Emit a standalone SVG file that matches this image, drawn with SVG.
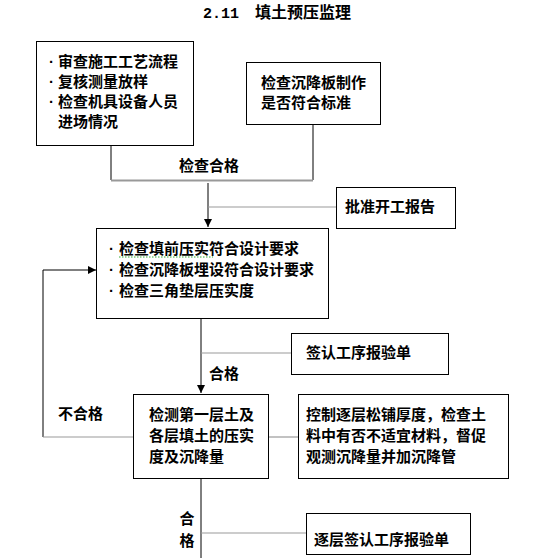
<svg xmlns="http://www.w3.org/2000/svg" width="558" height="558" viewBox="0 0 558 558">
<style>
.box{fill:#fff;stroke:#000;stroke-width:1}
.t{font-family:"Noto Sans CJK SC","Liberation Sans",sans-serif;font-size:15px;font-weight:bold;fill:#000}
.b{font-family:"Liberation Sans",sans-serif;font-size:15px;font-weight:bold;fill:#000}
.ln{stroke:#000;stroke-width:1;fill:none}
.gl{stroke:#999;stroke-width:1.2;fill:none}
</style>
<defs>
<marker id="ah" viewBox="0 0 10 10" refX="10" refY="5" markerWidth="8" markerHeight="8" markerUnits="userSpaceOnUse" orient="auto">
<path d="M0,0 L10,5 L0,10 z" fill="#000"/>
</marker>
</defs>
<rect width="558" height="558" fill="#fff"/>
<g id="title">
<text x="203" y="18" font-family="Liberation Mono,monospace" font-weight="bold" font-size="15">2.11</text>
<text x="255" y="18" class="t" style="font-size:16px">填土预压监理</text>
</g>

<g id="connectors">
<path class="ln" d="M111,145 V180"/>
<path class="ln" d="M313,124 V180"/>
<path class="gl" d="M111,180.5 H313" style="stroke-width:2"/>
<path class="ln" d="M208,183 V227" marker-end="url(#ah)"/>
<path class="gl" d="M208,207 H336"/>
<path class="ln" d="M201,318 V393" marker-end="url(#ah)"/>
<path class="gl" d="M201,353 H291"/>
<path class="ln" d="M43,437 V270 H96" marker-end="url(#ah)"/>
<path class="gl" d="M43,437 H133"/>
<path class="gl" d="M268,437 H298"/>
<path class="ln" d="M201,478 V558"/>
<path class="gl" d="M201,533 H306"/>
</g>

<g id="n1">
<rect class="box" x="36.5" y="41.5" width="157" height="104"/>
<text class="b" x="49" y="67">·</text><text class="t" x="58" y="67">审查施工工艺流程</text>
<text class="b" x="49" y="87">·</text><text class="t" x="58" y="87">复核测量放样</text>
<text class="b" x="49" y="107">·</text><text class="t" x="58" y="107">检查机具设备人员</text>
<text class="t" x="58" y="127">进场情况</text>
</g>
<g id="n2">
<rect class="box" x="246.5" y="62.5" width="134" height="62"/>
<text class="t" x="261" y="88">检查沉降板制作</text>
<text class="t" x="261" y="108">是否符合标准</text>
</g>
<g id="lbl1"><text class="t" x="179" y="171">检查合格</text></g>
<g id="n4">
<rect class="box" x="336.5" y="187.5" width="119" height="41"/>
<text class="t" x="345" y="212">批准开工报告</text>
</g>
<g id="n3">
<rect class="box" x="96.5" y="228.5" width="232" height="90"/>
<text class="b" x="109" y="254">·</text><text class="t" x="119" y="254">检查填前压实符合设计要求</text>
<text class="b" x="109" y="275">·</text><text class="t" x="119" y="275">检查沉降板埋设符合设计要求</text>
<text class="b" x="109" y="296">·</text><text class="t" x="119" y="296">检查三角垫层压实度</text>
<path d="M119,257 H213" stroke="#3a3" stroke-width="1" stroke-dasharray="1.5,1.5"/>
</g>
<g id="n6">
<rect class="box" x="291.5" y="333.5" width="157" height="41"/>
<text class="t" x="306" y="358">签认工序报验单</text>
</g>
<g id="lbl2"><text class="t" x="209" y="379">合格</text></g>
<g id="lbl3"><text class="t" x="58" y="419">不合格</text></g>
<g id="n5">
<rect class="box" x="133.5" y="394.5" width="135" height="84"/>
<text class="t" x="149" y="420">检测第一层土及</text>
<text class="t" x="149" y="441">各层填土的压实</text>
<text class="t" x="149" y="462">度及沉降量</text>
</g>
<g id="n7">
<rect class="box" x="298.5" y="394.5" width="210" height="84"/>
<text class="t" x="306" y="420">控制逐层松铺厚度，检查土</text>
<text class="t" x="306" y="441">料中有否不适宜材料，督促</text>
<text class="t" x="306" y="462">观测沉降量并加沉降管</text>
</g>
<g id="lbl4">
<text class="t" x="187" y="524" text-anchor="middle">合</text>
<text class="t" x="187" y="546" text-anchor="middle">格</text>
</g>
<g id="n8">
<rect class="box" x="306.5" y="513.5" width="164" height="41"/>
<text class="t" x="314" y="545">逐层签认工序报验单</text>
</g>
</svg>
